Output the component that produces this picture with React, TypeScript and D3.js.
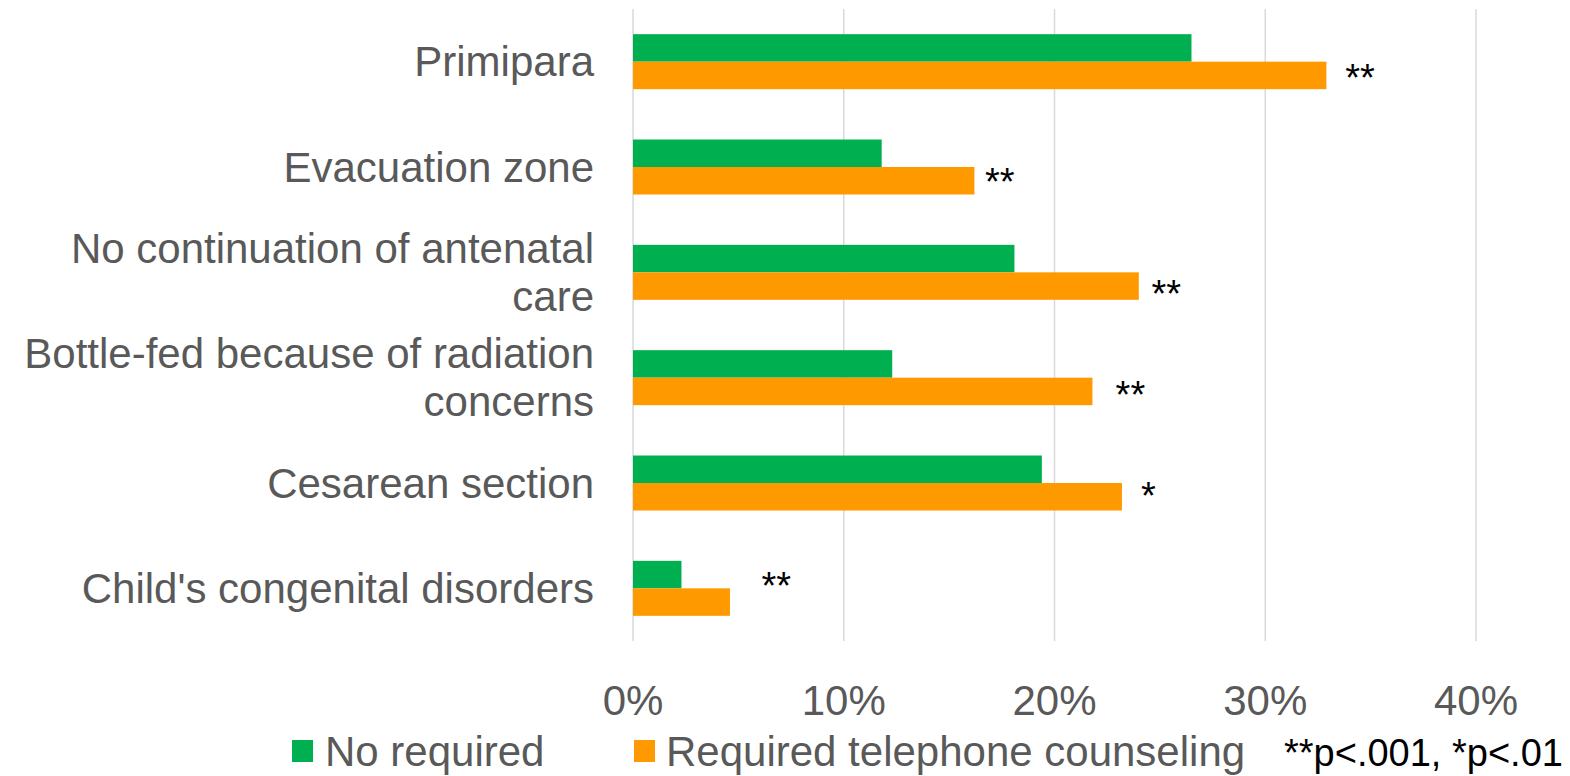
import React from "react";
import * as d3 from "d3";

const categories: string[][] = [
  ["Primipara"],
  ["Evacuation zone"],
  ["No continuation of antenatal", "care"],
  ["Bottle-fed because of radiation", "concerns"],
  ["Cesarean section"],
  ["Child's congenital disorders"],
];
const seriesNames = ["No required", "Required telephone counseling"];
const noRequired = [26.5, 11.8, 18.1, 12.3, 19.4, 2.3];
const requiredCounseling = [32.9, 16.2, 24.0, 21.8, 23.2, 4.6];
const starLabels = ["**", "**", "**", "**", "*", "**"];
const starX = [33.8, 16.7, 24.6, 22.9, 24.1, 6.1];
const starLift = [6.5, 7, 0.5, 5, 9.5, 25];
const ticks = [0, 10, 20, 30, 40];
const note = "**p<.001, *p<.01";

const colors = ["#00b050", "#ff9900"];
const W = 1570;
const H = 776;
const FONT = "'Liberation Sans', Arial, sans-serif";

export default function App() {
  const x = d3.scaleLinear().domain([0, 40]).range([633, 1476]);
  const keys = categories.map((c) => c.join(" "));
  const y = d3
    .scaleBand<string>()
    .domain(keys)
    .range([9, 641])
    .paddingInner(0.478)
    .paddingOuter(0.239);
  const sub = d3
    .scaleBand<string>()
    .domain(seriesNames)
    .range([0, y.bandwidth()]);
  const values = [noRequired, requiredCounseling];

  return (
    <svg
      width={W}
      height={H}
      style={{ position: "absolute", left: 0, top: 0, background: "#fff" }}
      fontFamily={FONT}
    >
      {ticks.map((t) => (
        <line
          key={"g" + t}
          x1={x(t)}
          x2={x(t)}
          y1={9}
          y2={641}
          stroke="#d9d9d9"
          strokeWidth={1.5}
        />
      ))}
      {values.map((vals, si) =>
        vals.map((v, i) => (
          <rect
            key={si + "-" + i}
            x={x(0)}
            y={(y(keys[i]) as number) + (sub(seriesNames[si]) as number)}
            width={x(v) - x(0)}
            height={sub.bandwidth()}
            fill={colors[si]}
          />
        ))
      )}
      {categories.map((lines, i) => {
        const cy = (y(keys[i]) as number) + y.bandwidth() / 2;
        const lh = 48;
        const start = cy - ((lines.length - 1) * lh) / 2;
        return (
          <text
            key={"c" + i}
            textAnchor="end"
            fontSize={42}
            fill="#595959"
          >
            {lines.map((ln, j) => (
              <tspan key={j} x={594} y={start + j * lh} dy="0.35em">
                {ln}
              </tspan>
            ))}
          </text>
        );
      })}
      {starLabels.map((s, i) => {
        const oc =
          (y(keys[i]) as number) +
          (sub(seriesNames[1]) as number) +
          sub.bandwidth() / 2;
        return (
          <text
            key={"s" + i}
            x={x(starX[i])}
            y={oc - starLift[i] + 21.7}
            fontSize={38}
            fill="#000"
          >
            {s}
          </text>
        );
      })}
      {ticks.map((t) => (
        <text
          key={"t" + t}
          x={x(t)}
          y={715}
          textAnchor="middle"
          fontSize={42}
          fill="#595959"
        >
          {t + "%"}
        </text>
      ))}
      <rect x={292} y={740} width={21} height={22} fill={colors[0]} />
      <text x={325} y={766} fontSize={42} fill="#595959">
        {seriesNames[0]}
      </text>
      <rect x={634} y={740} width={21} height={22} fill={colors[1]} />
      <text x={666} y={766} fontSize={42} fill="#595959">
        {seriesNames[1]}
      </text>
      <text x={1284} y={766} fontSize={38} fill="#000">
        {note}
      </text>
    </svg>
  );
}
